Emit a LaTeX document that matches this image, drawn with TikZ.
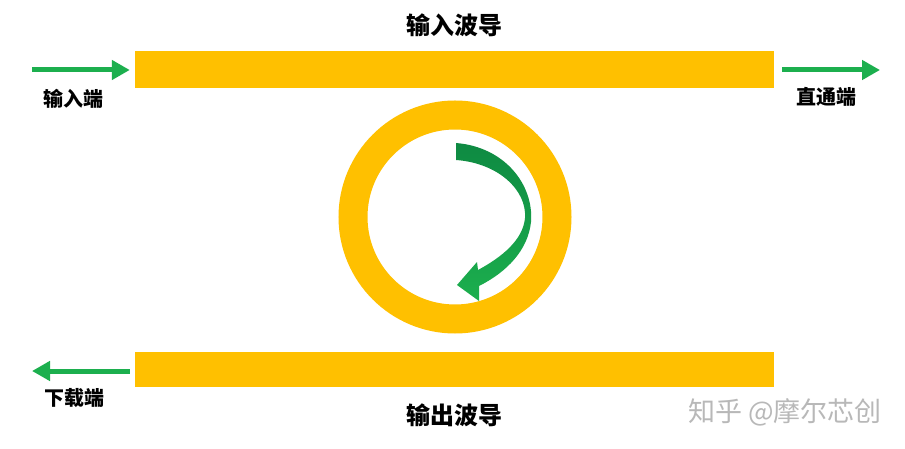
\documentclass[tikz,border=0pt]{standalone}
\usepackage{fontspec}
\newfontfamily\cjk{Noto Sans CJK SC}
\usetikzlibrary{arrows.meta}
\definecolor{wgyellow}{HTML}{FFC000}
\definecolor{arrgreen}{HTML}{1CAF4E}
\definecolor{darkgreen}{HTML}{0E8A42}
\tikzset{
  wg/.style={fill=wgyellow, draw=none, rectangle, minimum width=639pt, minimum height=37pt, inner sep=0pt},
  portarrow/.style={draw=arrgreen, line width=5pt, -{Triangle[length=18pt,width=19pt]}},
  title/.style={font=\cjk\bfseries\fontsize{24}{26}\selectfont, text=black, inner sep=0pt},
  portlabel/.style={font=\cjk\bfseries\fontsize{20}{22}\selectfont, text=black, inner sep=0pt},
  watermark/.style={font=\cjk\fontsize{27}{29}\selectfont, text=black!28, inner sep=0pt}
}
\begin{document}
\begin{tikzpicture}[x=1pt,y=-1pt]
\useasboundingbox (0,0) rectangle (905,449);
\fill[white] (0,0) rectangle (905,449);
% waveguides
\node[wg] (wgin) at (454.5,69.5) {};
\node[wg, minimum height=35pt] (wgout) at (454.5,369.5) {};
% ring
\draw[wgyellow, line width=29pt] (455,217) circle[radius=102];
\coordinate (ringc) at (455,217);
% straight arrows
\coordinate (inS) at (32,70);
\coordinate (thruE) at (880,70);
\coordinate (dropE) at (32,371);
\draw[portarrow, shorten >=5pt] (inS) -- (inS -| wgin.west);
\draw[portarrow] (wgin.east |- thruE) ++(8,0) -- (thruE);
\draw[portarrow] (wgout.west |- dropE) ++(-5,0) -- (dropE);
% curved arrow
\shade[top color=darkgreen, bottom color=arrgreen]
  (456,143) .. controls (505,147) and (534,185) .. (531,222)
  .. controls (528,250) and (507,272) .. (479,286)
  -- (479,301) -- (457,285) -- (477,262) -- (478,270)
  .. controls (502,257) and (523,240) .. (525,218)
  .. controls (527,190) and (498,163) .. (456,160) -- cycle;
% labels
\node[title] (tin) at (454,25) {输入波导};
\node[title] (tout) at (454,415) {输出波导};
\node[portlabel] (lin) at (73,99) {输入端};
\node[portlabel] (lthru) at (826,97) {直通端};
\node[portlabel] (ldrop) at (74,398) {下载端};
\node[watermark] (wm) at (785,412) {知乎 @摩尔芯创};
\end{tikzpicture}
\end{document}
